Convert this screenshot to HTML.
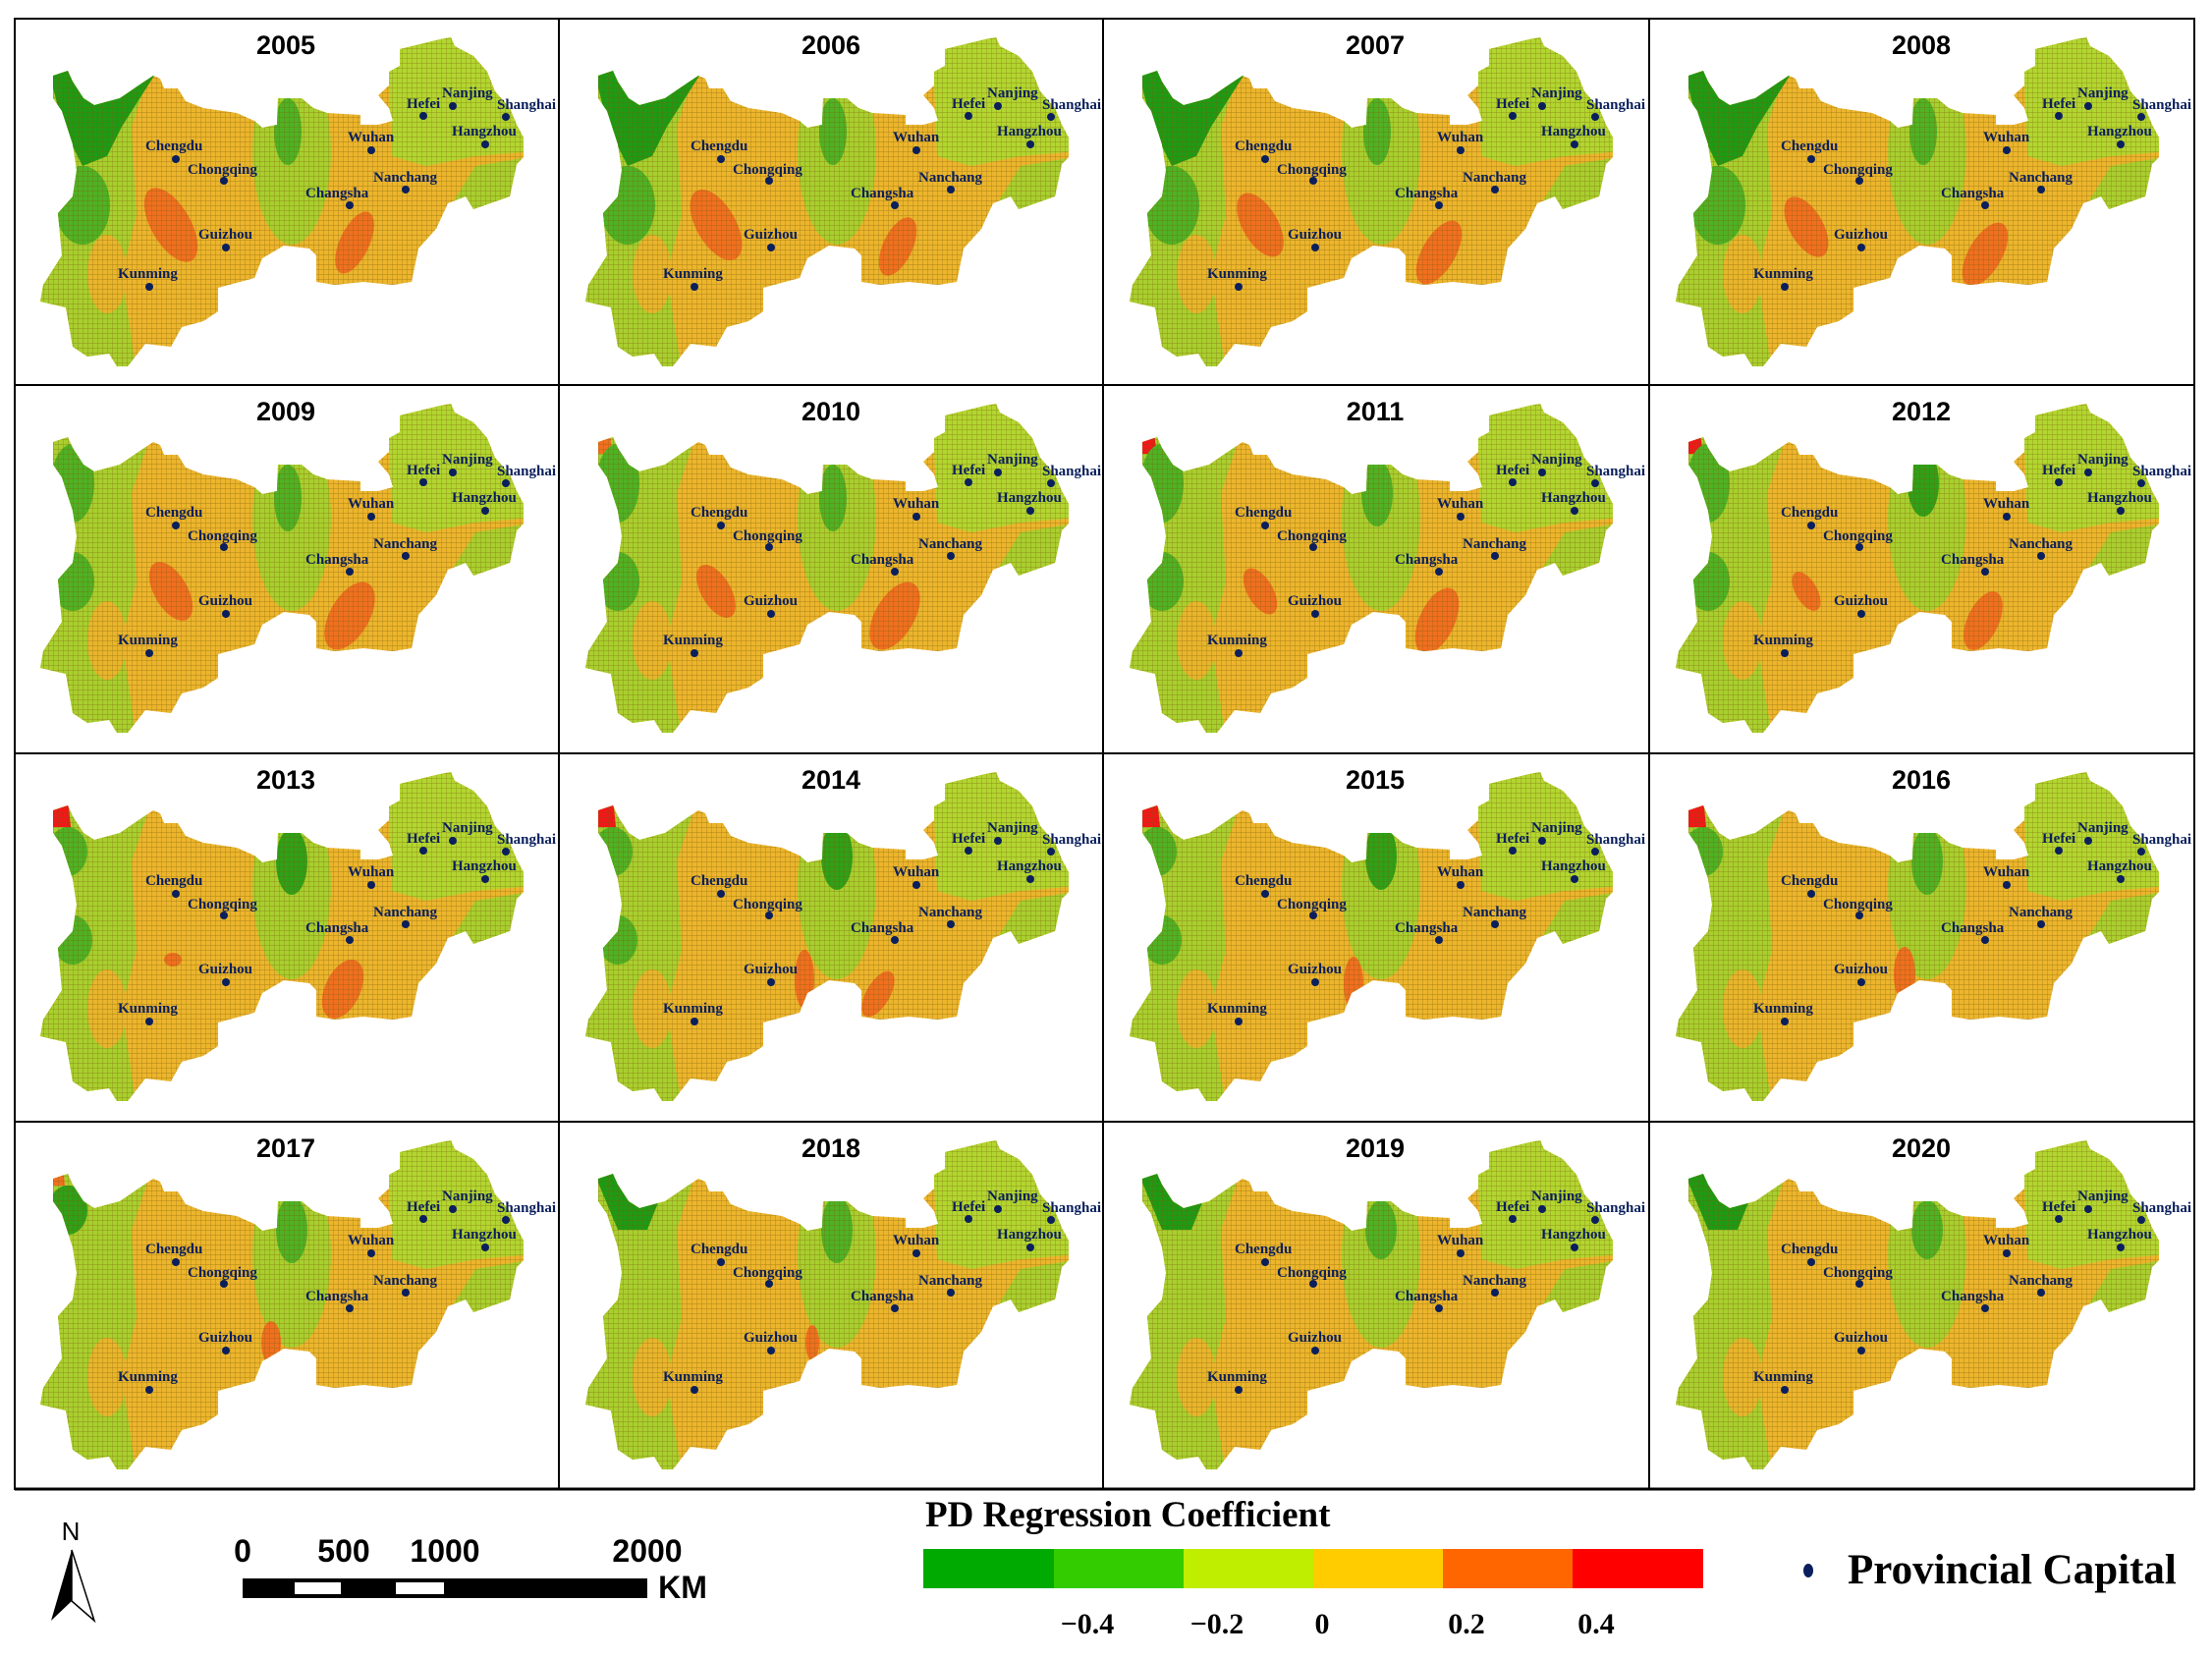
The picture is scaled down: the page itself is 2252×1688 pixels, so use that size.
<!DOCTYPE html>
<html><head><meta charset="utf-8"><style>
html,body{margin:0;padding:0;background:#fff}
svg{display:block}
.t{font:bold 27px "Liberation Sans",sans-serif;text-anchor:middle;fill:#000}
.c{font:bold 15px "Liberation Serif",serif;fill:#0a1f5c}
</style></head><body>
<svg width="2252" height="1688" viewBox="0 0 2252 1688" xmlns="http://www.w3.org/2000/svg">
<defs>
<clipPath id="cm"><polygon id="mp" points="40,58 55,53 60,64 71,81 82,88 108,81 127,68 142,58 149,61 153,71 167,71 175,84 193,91 227,96 245,104 253,111 268,108 269,81 293,81 305,91 319,96 353,98 353,108 371,108 386,104 382,91 371,78 382,68 382,54 393,48 393,31 434,21 445,19 449,28 468,38 482,54 490,74 505,91 512,108 519,121 519,141 512,148 505,181 468,194 460,181 442,188 430,214 412,234 405,268 386,271 356,268 327,271 308,268 308,241 301,234 275,231 253,244 245,264 208,274 208,298 193,308 171,314 160,334 134,331 116,354 105,354 97,341 75,344 60,334 53,294 27,288 30,271 49,241 45,198 60,181 64,154 60,128 49,94 40,81"/></clipPath>
<pattern id="hp" width="5" height="5" patternUnits="userSpaceOnUse"><path d="M0 0V5M0 0H5" stroke="#7a5a08" stroke-width="0.9" opacity="0.55"/></pattern>
<g id="base">
<rect x="0" y="0" width="555" height="374" fill="#ecb52c"/>
<path d="M30,50 L140,50 L120,110 L125,200 L110,260 L125,360 L40,360 L20,280 Z" fill="#a8cf2e"/>
<ellipse cx="283" cy="135" rx="40" ry="95" fill="#a8cf2e"/>
<path d="M380,10 L530,10 L530,135 L470,140 L420,150 L385,140 Z" fill="#b2d630"/>
<path d="M470,150 L530,140 L530,200 L440,260 L420,230 Z" fill="#a8cf2e"/>
<ellipse cx="95" cy="260" rx="20" ry="40" fill="#e8b52c"/>
</g>
</defs>

<g transform="translate(14,19)"><g clip-path="url(#cm)"><use href="#base"/><path d="M35,50 L145,55 L110,110 L95,140 L70,150 L50,110 Z" fill="#1f9a14"/><ellipse cx="70" cy="190" rx="28" ry="40" fill="#4fb224"/><ellipse cx="279" cy="115" rx="14" ry="34" fill="#4fb224"/><ellipse cx="160" cy="210" rx="20" ry="42" transform="rotate(-30 160 210)" fill="#f07020"/><ellipse cx="347" cy="228" rx="15" ry="34" transform="rotate(25 347 228)" fill="#f07020"/><rect width="555" height="374" fill="url(#hp)"/></g></g>
<g transform="translate(569,19)"><g clip-path="url(#cm)"><use href="#base"/><path d="M35,50 L145,55 L110,110 L95,140 L70,150 L50,110 Z" fill="#1f9a14"/><ellipse cx="70" cy="190" rx="28" ry="40" fill="#4fb224"/><ellipse cx="279" cy="115" rx="14" ry="34" fill="#4fb224"/><ellipse cx="160" cy="210" rx="20" ry="40" transform="rotate(-30 160 210)" fill="#f07020"/><ellipse cx="345" cy="232" rx="15" ry="32" transform="rotate(25 345 232)" fill="#f07020"/><rect width="555" height="374" fill="url(#hp)"/></g></g>
<g transform="translate(1123,19)"><g clip-path="url(#cm)"><use href="#base"/><path d="M35,50 L145,55 L110,110 L95,140 L70,150 L50,110 Z" fill="#1f9a14"/><ellipse cx="70" cy="190" rx="28" ry="40" fill="#4fb224"/><ellipse cx="279" cy="115" rx="14" ry="34" fill="#4fb224"/><ellipse cx="160" cy="210" rx="18" ry="36" transform="rotate(-30 160 210)" fill="#f07020"/><ellipse cx="342" cy="238" rx="17" ry="36" transform="rotate(30 342 238)" fill="#f07020"/><rect width="555" height="374" fill="url(#hp)"/></g></g>
<g transform="translate(1679,19)"><g clip-path="url(#cm)"><use href="#base"/><path d="M35,50 L145,55 L110,110 L95,140 L70,150 L50,110 Z" fill="#1f9a14"/><ellipse cx="70" cy="190" rx="28" ry="40" fill="#4fb224"/><ellipse cx="279" cy="115" rx="14" ry="34" fill="#4fb224"/><ellipse cx="160" cy="212" rx="17" ry="34" transform="rotate(-30 160 212)" fill="#f07020"/><ellipse cx="342" cy="240" rx="17" ry="36" transform="rotate(30 342 240)" fill="#f07020"/><rect width="555" height="374" fill="url(#hp)"/></g></g>

<g transform="translate(14,392)"><g clip-path="url(#cm)"><use href="#base"/><ellipse cx="60" cy="100" rx="22" ry="40" fill="#4fb224"/><ellipse cx="60" cy="200" rx="22" ry="30" fill="#4fb224"/><ellipse cx="279" cy="115" rx="14" ry="34" fill="#4fb224"/><ellipse cx="160" cy="210" rx="17" ry="33" transform="rotate(-30 160 210)" fill="#f07020"/><ellipse cx="342" cy="235" rx="20" ry="38" transform="rotate(30 342 235)" fill="#f07020"/><rect width="555" height="374" fill="url(#hp)"/></g></g>
<g transform="translate(569,392)"><g clip-path="url(#cm)"><use href="#base"/><path d="M35,50 L52,50 L55,70 L40,70 Z" fill="#f07020"/><ellipse cx="60" cy="100" rx="22" ry="40" fill="#4fb224"/><ellipse cx="60" cy="200" rx="22" ry="30" fill="#4fb224"/><ellipse cx="279" cy="115" rx="14" ry="34" fill="#4fb224"/><ellipse cx="160" cy="210" rx="15" ry="30" transform="rotate(-30 160 210)" fill="#f07020"/><ellipse cx="342" cy="235" rx="20" ry="38" transform="rotate(30 342 235)" fill="#f07020"/><rect width="555" height="374" fill="url(#hp)"/></g></g>
<g transform="translate(1123,392)"><g clip-path="url(#cm)"><use href="#base"/><path d="M35,50 L52,50 L55,70 L40,70 Z" fill="#f01818"/><ellipse cx="60" cy="100" rx="22" ry="40" fill="#4fb224"/><ellipse cx="60" cy="200" rx="22" ry="30" fill="#4fb224"/><ellipse cx="279" cy="110" rx="16" ry="34" fill="#4fb224"/><ellipse cx="160" cy="210" rx="13" ry="26" transform="rotate(-30 160 210)" fill="#f07020"/><ellipse cx="340" cy="240" rx="18" ry="36" transform="rotate(25 340 240)" fill="#f07020"/><rect width="555" height="374" fill="url(#hp)"/></g></g>
<g transform="translate(1679,392)"><g clip-path="url(#cm)"><use href="#base"/><path d="M35,50 L52,50 L55,70 L40,70 Z" fill="#f01818"/><ellipse cx="60" cy="100" rx="22" ry="40" fill="#4fb224"/><ellipse cx="60" cy="200" rx="22" ry="30" fill="#4fb224"/><ellipse cx="279" cy="100" rx="16" ry="34" fill="#2fa018"/><ellipse cx="160" cy="210" rx="11" ry="22" transform="rotate(-30 160 210)" fill="#f07020"/><ellipse cx="340" cy="240" rx="16" ry="32" transform="rotate(25 340 240)" fill="#f07020"/><rect width="555" height="374" fill="url(#hp)"/></g></g>

<g transform="translate(14,767)"><g clip-path="url(#cm)"><use href="#base"/><path d="M30,45 L55,45 L58,75 L35,75 Z" fill="#f01818"/><ellipse cx="55" cy="100" rx="20" ry="25" fill="#4fb224"/><ellipse cx="60" cy="190" rx="20" ry="25" fill="#4fb224"/><ellipse cx="283" cy="110" rx="16" ry="34" fill="#2fa018"/><ellipse cx="162" cy="210" rx="9" ry="7" fill="#f07020"/><ellipse cx="335" cy="240" rx="18" ry="32" transform="rotate(25 335 240)" fill="#f07020"/><rect width="555" height="374" fill="url(#hp)"/></g></g>
<g transform="translate(569,767)"><g clip-path="url(#cm)"><use href="#base"/><path d="M30,45 L55,45 L58,75 L35,75 Z" fill="#f01818"/><ellipse cx="55" cy="100" rx="20" ry="25" fill="#4fb224"/><ellipse cx="60" cy="190" rx="20" ry="25" fill="#4fb224"/><ellipse cx="283" cy="105" rx="16" ry="34" fill="#2fa018"/><ellipse cx="250" cy="230" rx="10" ry="30" fill="#f07020"/><ellipse cx="325" cy="245" rx="12" ry="26" transform="rotate(30 325 245)" fill="#f07020"/><rect width="555" height="374" fill="url(#hp)"/></g></g>
<g transform="translate(1123,767)"><g clip-path="url(#cm)"><use href="#base"/><path d="M30,45 L55,45 L58,75 L35,75 Z" fill="#f01818"/><ellipse cx="55" cy="100" rx="20" ry="25" fill="#4fb224"/><ellipse cx="60" cy="190" rx="20" ry="25" fill="#4fb224"/><ellipse cx="283" cy="105" rx="16" ry="34" fill="#2fa018"/><ellipse cx="255" cy="235" rx="10" ry="28" fill="#f07020"/><rect width="555" height="374" fill="url(#hp)"/></g></g>
<g transform="translate(1679,767)"><g clip-path="url(#cm)"><use href="#base"/><path d="M30,45 L55,45 L58,75 L35,75 Z" fill="#f01818"/><ellipse cx="55" cy="100" rx="20" ry="25" fill="#4fb224"/><ellipse cx="283" cy="110" rx="16" ry="34" fill="#4fb224"/><ellipse cx="260" cy="225" rx="11" ry="28" fill="#f07020"/><rect width="555" height="374" fill="url(#hp)"/></g></g>

<g transform="translate(14,1142)"><g clip-path="url(#cm)"><use href="#base"/><path d="M30,45 L50,45 L52,65 L35,65 Z" fill="#f07020"/><ellipse cx="55" cy="90" rx="20" ry="25" fill="#2fa018"/><ellipse cx="283" cy="110" rx="16" ry="34" fill="#4fb224"/><ellipse cx="262" cy="225" rx="10" ry="22" fill="#f07020"/><rect width="555" height="374" fill="url(#hp)"/></g></g>
<g transform="translate(569,1142)"><g clip-path="url(#cm)"><use href="#base"/><path d="M35,50 L110,60 L90,110 L60,110 Z" fill="#1f9a14"/><ellipse cx="283" cy="110" rx="16" ry="34" fill="#4fb224"/><ellipse cx="258" cy="225" rx="7" ry="18" fill="#f07020"/><rect width="555" height="374" fill="url(#hp)"/></g></g>
<g transform="translate(1123,1142)"><g clip-path="url(#cm)"><use href="#base"/><path d="M35,50 L110,60 L90,110 L60,110 Z" fill="#1f9a14"/><ellipse cx="283" cy="110" rx="16" ry="30" fill="#4fb224"/><rect width="555" height="374" fill="url(#hp)"/></g></g>
<g transform="translate(1679,1142)"><g clip-path="url(#cm)"><use href="#base"/><path d="M35,50 L110,60 L90,110 L60,110 Z" fill="#1f9a14"/><ellipse cx="283" cy="110" rx="16" ry="30" fill="#4fb224"/><rect width="555" height="374" fill="url(#hp)"/></g></g>

<g fill="#0a1f5c">
<g transform="translate(14,19)"><text class="t" x="277" y="36">2005</text><circle cx="165" cy="143" r="4"/><text class="c" x="134" y="134">Chengdu</text><circle cx="214" cy="165" r="4"/><text class="c" x="177" y="158">Chongqing</text><circle cx="216" cy="233" r="4"/><text class="c" x="188" y="224">Guizhou</text><circle cx="138" cy="273" r="4"/><text class="c" x="106" y="264">Kunming</text><circle cx="342" cy="190" r="4"/><text class="c" x="297" y="182">Changsha</text><circle cx="399" cy="174" r="4"/><text class="c" x="366" y="166">Nanchang</text><circle cx="364" cy="134" r="4"/><text class="c" x="340" y="125">Wuhan</text><circle cx="417" cy="99" r="4"/><text class="c" x="400" y="91">Hefei</text><circle cx="447" cy="89" r="4"/><text class="c" x="436" y="80">Nanjing</text><circle cx="501" cy="100" r="4"/><text class="c" x="492" y="92">Shanghai</text><circle cx="480" cy="128" r="4"/><text class="c" x="446" y="119">Hangzhou</text></g>
<g transform="translate(569,19)"><text class="t" x="277" y="36">2006</text><circle cx="165" cy="143" r="4"/><text class="c" x="134" y="134">Chengdu</text><circle cx="214" cy="165" r="4"/><text class="c" x="177" y="158">Chongqing</text><circle cx="216" cy="233" r="4"/><text class="c" x="188" y="224">Guizhou</text><circle cx="138" cy="273" r="4"/><text class="c" x="106" y="264">Kunming</text><circle cx="342" cy="190" r="4"/><text class="c" x="297" y="182">Changsha</text><circle cx="399" cy="174" r="4"/><text class="c" x="366" y="166">Nanchang</text><circle cx="364" cy="134" r="4"/><text class="c" x="340" y="125">Wuhan</text><circle cx="417" cy="99" r="4"/><text class="c" x="400" y="91">Hefei</text><circle cx="447" cy="89" r="4"/><text class="c" x="436" y="80">Nanjing</text><circle cx="501" cy="100" r="4"/><text class="c" x="492" y="92">Shanghai</text><circle cx="480" cy="128" r="4"/><text class="c" x="446" y="119">Hangzhou</text></g>
<g transform="translate(1123,19)"><text class="t" x="277" y="36">2007</text><circle cx="165" cy="143" r="4"/><text class="c" x="134" y="134">Chengdu</text><circle cx="214" cy="165" r="4"/><text class="c" x="177" y="158">Chongqing</text><circle cx="216" cy="233" r="4"/><text class="c" x="188" y="224">Guizhou</text><circle cx="138" cy="273" r="4"/><text class="c" x="106" y="264">Kunming</text><circle cx="342" cy="190" r="4"/><text class="c" x="297" y="182">Changsha</text><circle cx="399" cy="174" r="4"/><text class="c" x="366" y="166">Nanchang</text><circle cx="364" cy="134" r="4"/><text class="c" x="340" y="125">Wuhan</text><circle cx="417" cy="99" r="4"/><text class="c" x="400" y="91">Hefei</text><circle cx="447" cy="89" r="4"/><text class="c" x="436" y="80">Nanjing</text><circle cx="501" cy="100" r="4"/><text class="c" x="492" y="92">Shanghai</text><circle cx="480" cy="128" r="4"/><text class="c" x="446" y="119">Hangzhou</text></g>
<g transform="translate(1679,19)"><text class="t" x="277" y="36">2008</text><circle cx="165" cy="143" r="4"/><text class="c" x="134" y="134">Chengdu</text><circle cx="214" cy="165" r="4"/><text class="c" x="177" y="158">Chongqing</text><circle cx="216" cy="233" r="4"/><text class="c" x="188" y="224">Guizhou</text><circle cx="138" cy="273" r="4"/><text class="c" x="106" y="264">Kunming</text><circle cx="342" cy="190" r="4"/><text class="c" x="297" y="182">Changsha</text><circle cx="399" cy="174" r="4"/><text class="c" x="366" y="166">Nanchang</text><circle cx="364" cy="134" r="4"/><text class="c" x="340" y="125">Wuhan</text><circle cx="417" cy="99" r="4"/><text class="c" x="400" y="91">Hefei</text><circle cx="447" cy="89" r="4"/><text class="c" x="436" y="80">Nanjing</text><circle cx="501" cy="100" r="4"/><text class="c" x="492" y="92">Shanghai</text><circle cx="480" cy="128" r="4"/><text class="c" x="446" y="119">Hangzhou</text></g>
<g transform="translate(14,392)"><text class="t" x="277" y="36">2009</text><circle cx="165" cy="143" r="4"/><text class="c" x="134" y="134">Chengdu</text><circle cx="214" cy="165" r="4"/><text class="c" x="177" y="158">Chongqing</text><circle cx="216" cy="233" r="4"/><text class="c" x="188" y="224">Guizhou</text><circle cx="138" cy="273" r="4"/><text class="c" x="106" y="264">Kunming</text><circle cx="342" cy="190" r="4"/><text class="c" x="297" y="182">Changsha</text><circle cx="399" cy="174" r="4"/><text class="c" x="366" y="166">Nanchang</text><circle cx="364" cy="134" r="4"/><text class="c" x="340" y="125">Wuhan</text><circle cx="417" cy="99" r="4"/><text class="c" x="400" y="91">Hefei</text><circle cx="447" cy="89" r="4"/><text class="c" x="436" y="80">Nanjing</text><circle cx="501" cy="100" r="4"/><text class="c" x="492" y="92">Shanghai</text><circle cx="480" cy="128" r="4"/><text class="c" x="446" y="119">Hangzhou</text></g>
<g transform="translate(569,392)"><text class="t" x="277" y="36">2010</text><circle cx="165" cy="143" r="4"/><text class="c" x="134" y="134">Chengdu</text><circle cx="214" cy="165" r="4"/><text class="c" x="177" y="158">Chongqing</text><circle cx="216" cy="233" r="4"/><text class="c" x="188" y="224">Guizhou</text><circle cx="138" cy="273" r="4"/><text class="c" x="106" y="264">Kunming</text><circle cx="342" cy="190" r="4"/><text class="c" x="297" y="182">Changsha</text><circle cx="399" cy="174" r="4"/><text class="c" x="366" y="166">Nanchang</text><circle cx="364" cy="134" r="4"/><text class="c" x="340" y="125">Wuhan</text><circle cx="417" cy="99" r="4"/><text class="c" x="400" y="91">Hefei</text><circle cx="447" cy="89" r="4"/><text class="c" x="436" y="80">Nanjing</text><circle cx="501" cy="100" r="4"/><text class="c" x="492" y="92">Shanghai</text><circle cx="480" cy="128" r="4"/><text class="c" x="446" y="119">Hangzhou</text></g>
<g transform="translate(1123,392)"><text class="t" x="277" y="36">2011</text><circle cx="165" cy="143" r="4"/><text class="c" x="134" y="134">Chengdu</text><circle cx="214" cy="165" r="4"/><text class="c" x="177" y="158">Chongqing</text><circle cx="216" cy="233" r="4"/><text class="c" x="188" y="224">Guizhou</text><circle cx="138" cy="273" r="4"/><text class="c" x="106" y="264">Kunming</text><circle cx="342" cy="190" r="4"/><text class="c" x="297" y="182">Changsha</text><circle cx="399" cy="174" r="4"/><text class="c" x="366" y="166">Nanchang</text><circle cx="364" cy="134" r="4"/><text class="c" x="340" y="125">Wuhan</text><circle cx="417" cy="99" r="4"/><text class="c" x="400" y="91">Hefei</text><circle cx="447" cy="89" r="4"/><text class="c" x="436" y="80">Nanjing</text><circle cx="501" cy="100" r="4"/><text class="c" x="492" y="92">Shanghai</text><circle cx="480" cy="128" r="4"/><text class="c" x="446" y="119">Hangzhou</text></g>
<g transform="translate(1679,392)"><text class="t" x="277" y="36">2012</text><circle cx="165" cy="143" r="4"/><text class="c" x="134" y="134">Chengdu</text><circle cx="214" cy="165" r="4"/><text class="c" x="177" y="158">Chongqing</text><circle cx="216" cy="233" r="4"/><text class="c" x="188" y="224">Guizhou</text><circle cx="138" cy="273" r="4"/><text class="c" x="106" y="264">Kunming</text><circle cx="342" cy="190" r="4"/><text class="c" x="297" y="182">Changsha</text><circle cx="399" cy="174" r="4"/><text class="c" x="366" y="166">Nanchang</text><circle cx="364" cy="134" r="4"/><text class="c" x="340" y="125">Wuhan</text><circle cx="417" cy="99" r="4"/><text class="c" x="400" y="91">Hefei</text><circle cx="447" cy="89" r="4"/><text class="c" x="436" y="80">Nanjing</text><circle cx="501" cy="100" r="4"/><text class="c" x="492" y="92">Shanghai</text><circle cx="480" cy="128" r="4"/><text class="c" x="446" y="119">Hangzhou</text></g>
<g transform="translate(14,767)"><text class="t" x="277" y="36">2013</text><circle cx="165" cy="143" r="4"/><text class="c" x="134" y="134">Chengdu</text><circle cx="214" cy="165" r="4"/><text class="c" x="177" y="158">Chongqing</text><circle cx="216" cy="233" r="4"/><text class="c" x="188" y="224">Guizhou</text><circle cx="138" cy="273" r="4"/><text class="c" x="106" y="264">Kunming</text><circle cx="342" cy="190" r="4"/><text class="c" x="297" y="182">Changsha</text><circle cx="399" cy="174" r="4"/><text class="c" x="366" y="166">Nanchang</text><circle cx="364" cy="134" r="4"/><text class="c" x="340" y="125">Wuhan</text><circle cx="417" cy="99" r="4"/><text class="c" x="400" y="91">Hefei</text><circle cx="447" cy="89" r="4"/><text class="c" x="436" y="80">Nanjing</text><circle cx="501" cy="100" r="4"/><text class="c" x="492" y="92">Shanghai</text><circle cx="480" cy="128" r="4"/><text class="c" x="446" y="119">Hangzhou</text></g>
<g transform="translate(569,767)"><text class="t" x="277" y="36">2014</text><circle cx="165" cy="143" r="4"/><text class="c" x="134" y="134">Chengdu</text><circle cx="214" cy="165" r="4"/><text class="c" x="177" y="158">Chongqing</text><circle cx="216" cy="233" r="4"/><text class="c" x="188" y="224">Guizhou</text><circle cx="138" cy="273" r="4"/><text class="c" x="106" y="264">Kunming</text><circle cx="342" cy="190" r="4"/><text class="c" x="297" y="182">Changsha</text><circle cx="399" cy="174" r="4"/><text class="c" x="366" y="166">Nanchang</text><circle cx="364" cy="134" r="4"/><text class="c" x="340" y="125">Wuhan</text><circle cx="417" cy="99" r="4"/><text class="c" x="400" y="91">Hefei</text><circle cx="447" cy="89" r="4"/><text class="c" x="436" y="80">Nanjing</text><circle cx="501" cy="100" r="4"/><text class="c" x="492" y="92">Shanghai</text><circle cx="480" cy="128" r="4"/><text class="c" x="446" y="119">Hangzhou</text></g>
<g transform="translate(1123,767)"><text class="t" x="277" y="36">2015</text><circle cx="165" cy="143" r="4"/><text class="c" x="134" y="134">Chengdu</text><circle cx="214" cy="165" r="4"/><text class="c" x="177" y="158">Chongqing</text><circle cx="216" cy="233" r="4"/><text class="c" x="188" y="224">Guizhou</text><circle cx="138" cy="273" r="4"/><text class="c" x="106" y="264">Kunming</text><circle cx="342" cy="190" r="4"/><text class="c" x="297" y="182">Changsha</text><circle cx="399" cy="174" r="4"/><text class="c" x="366" y="166">Nanchang</text><circle cx="364" cy="134" r="4"/><text class="c" x="340" y="125">Wuhan</text><circle cx="417" cy="99" r="4"/><text class="c" x="400" y="91">Hefei</text><circle cx="447" cy="89" r="4"/><text class="c" x="436" y="80">Nanjing</text><circle cx="501" cy="100" r="4"/><text class="c" x="492" y="92">Shanghai</text><circle cx="480" cy="128" r="4"/><text class="c" x="446" y="119">Hangzhou</text></g>
<g transform="translate(1679,767)"><text class="t" x="277" y="36">2016</text><circle cx="165" cy="143" r="4"/><text class="c" x="134" y="134">Chengdu</text><circle cx="214" cy="165" r="4"/><text class="c" x="177" y="158">Chongqing</text><circle cx="216" cy="233" r="4"/><text class="c" x="188" y="224">Guizhou</text><circle cx="138" cy="273" r="4"/><text class="c" x="106" y="264">Kunming</text><circle cx="342" cy="190" r="4"/><text class="c" x="297" y="182">Changsha</text><circle cx="399" cy="174" r="4"/><text class="c" x="366" y="166">Nanchang</text><circle cx="364" cy="134" r="4"/><text class="c" x="340" y="125">Wuhan</text><circle cx="417" cy="99" r="4"/><text class="c" x="400" y="91">Hefei</text><circle cx="447" cy="89" r="4"/><text class="c" x="436" y="80">Nanjing</text><circle cx="501" cy="100" r="4"/><text class="c" x="492" y="92">Shanghai</text><circle cx="480" cy="128" r="4"/><text class="c" x="446" y="119">Hangzhou</text></g>
<g transform="translate(14,1142)"><text class="t" x="277" y="36">2017</text><circle cx="165" cy="143" r="4"/><text class="c" x="134" y="134">Chengdu</text><circle cx="214" cy="165" r="4"/><text class="c" x="177" y="158">Chongqing</text><circle cx="216" cy="233" r="4"/><text class="c" x="188" y="224">Guizhou</text><circle cx="138" cy="273" r="4"/><text class="c" x="106" y="264">Kunming</text><circle cx="342" cy="190" r="4"/><text class="c" x="297" y="182">Changsha</text><circle cx="399" cy="174" r="4"/><text class="c" x="366" y="166">Nanchang</text><circle cx="364" cy="134" r="4"/><text class="c" x="340" y="125">Wuhan</text><circle cx="417" cy="99" r="4"/><text class="c" x="400" y="91">Hefei</text><circle cx="447" cy="89" r="4"/><text class="c" x="436" y="80">Nanjing</text><circle cx="501" cy="100" r="4"/><text class="c" x="492" y="92">Shanghai</text><circle cx="480" cy="128" r="4"/><text class="c" x="446" y="119">Hangzhou</text></g>
<g transform="translate(569,1142)"><text class="t" x="277" y="36">2018</text><circle cx="165" cy="143" r="4"/><text class="c" x="134" y="134">Chengdu</text><circle cx="214" cy="165" r="4"/><text class="c" x="177" y="158">Chongqing</text><circle cx="216" cy="233" r="4"/><text class="c" x="188" y="224">Guizhou</text><circle cx="138" cy="273" r="4"/><text class="c" x="106" y="264">Kunming</text><circle cx="342" cy="190" r="4"/><text class="c" x="297" y="182">Changsha</text><circle cx="399" cy="174" r="4"/><text class="c" x="366" y="166">Nanchang</text><circle cx="364" cy="134" r="4"/><text class="c" x="340" y="125">Wuhan</text><circle cx="417" cy="99" r="4"/><text class="c" x="400" y="91">Hefei</text><circle cx="447" cy="89" r="4"/><text class="c" x="436" y="80">Nanjing</text><circle cx="501" cy="100" r="4"/><text class="c" x="492" y="92">Shanghai</text><circle cx="480" cy="128" r="4"/><text class="c" x="446" y="119">Hangzhou</text></g>
<g transform="translate(1123,1142)"><text class="t" x="277" y="36">2019</text><circle cx="165" cy="143" r="4"/><text class="c" x="134" y="134">Chengdu</text><circle cx="214" cy="165" r="4"/><text class="c" x="177" y="158">Chongqing</text><circle cx="216" cy="233" r="4"/><text class="c" x="188" y="224">Guizhou</text><circle cx="138" cy="273" r="4"/><text class="c" x="106" y="264">Kunming</text><circle cx="342" cy="190" r="4"/><text class="c" x="297" y="182">Changsha</text><circle cx="399" cy="174" r="4"/><text class="c" x="366" y="166">Nanchang</text><circle cx="364" cy="134" r="4"/><text class="c" x="340" y="125">Wuhan</text><circle cx="417" cy="99" r="4"/><text class="c" x="400" y="91">Hefei</text><circle cx="447" cy="89" r="4"/><text class="c" x="436" y="80">Nanjing</text><circle cx="501" cy="100" r="4"/><text class="c" x="492" y="92">Shanghai</text><circle cx="480" cy="128" r="4"/><text class="c" x="446" y="119">Hangzhou</text></g>
<g transform="translate(1679,1142)"><text class="t" x="277" y="36">2020</text><circle cx="165" cy="143" r="4"/><text class="c" x="134" y="134">Chengdu</text><circle cx="214" cy="165" r="4"/><text class="c" x="177" y="158">Chongqing</text><circle cx="216" cy="233" r="4"/><text class="c" x="188" y="224">Guizhou</text><circle cx="138" cy="273" r="4"/><text class="c" x="106" y="264">Kunming</text><circle cx="342" cy="190" r="4"/><text class="c" x="297" y="182">Changsha</text><circle cx="399" cy="174" r="4"/><text class="c" x="366" y="166">Nanchang</text><circle cx="364" cy="134" r="4"/><text class="c" x="340" y="125">Wuhan</text><circle cx="417" cy="99" r="4"/><text class="c" x="400" y="91">Hefei</text><circle cx="447" cy="89" r="4"/><text class="c" x="436" y="80">Nanjing</text><circle cx="501" cy="100" r="4"/><text class="c" x="492" y="92">Shanghai</text><circle cx="480" cy="128" r="4"/><text class="c" x="446" y="119">Hangzhou</text></g>
</g>

<g stroke="#000" fill="none">
<rect x="15" y="19" width="2219" height="1497" stroke-width="2"/>
<line x1="569" y1="19" x2="569" y2="1516" stroke-width="2"/>
<line x1="1123" y1="19" x2="1123" y2="1516" stroke-width="2"/>
<line x1="1679" y1="19" x2="1679" y2="1516" stroke-width="2"/>
<line x1="15" y1="392" x2="2234" y2="392" stroke-width="2"/>
<line x1="15" y1="767" x2="2234" y2="767" stroke-width="2"/>
<line x1="15" y1="1142" x2="2234" y2="1142" stroke-width="2"/>
<line x1="15" y1="1516" x2="2234" y2="1516" stroke-width="3"/>
</g>

<text x="72" y="1568" font-family="Liberation Sans,sans-serif" font-size="26" text-anchor="middle">N</text>
<polygon points="73,1578 52,1650 73,1630" fill="#000"/>
<polygon points="73,1578 96,1650 73,1630" fill="#fff" stroke="#000" stroke-width="1.5"/>

<g font-family="Liberation Sans,sans-serif" font-weight="bold" font-size="32" text-anchor="middle">
<text x="247" y="1590">0</text><text x="350" y="1590">500</text><text x="453" y="1590">1000</text><text x="659" y="1590">2000</text>
<text x="695" y="1627">KM</text>
</g>
<rect x="247" y="1607" width="412" height="20" fill="#000"/>
<rect x="300" y="1611" width="47" height="12" fill="#fff"/>
<rect x="403" y="1611" width="49" height="12" fill="#fff"/>

<text x="942" y="1554" font-family="Liberation Serif,serif" font-weight="bold" font-size="37">PD Regression Coefficient</text>
<rect x="940" y="1577" width="133" height="40" fill="#00aa00"/>
<rect x="1073" y="1577" width="132" height="40" fill="#33cc00"/>
<rect x="1205" y="1577" width="132" height="40" fill="#bfee00"/>
<rect x="1337" y="1577" width="132" height="40" fill="#ffcc00"/>
<rect x="1469" y="1577" width="132" height="40" fill="#ff6600"/>
<rect x="1601" y="1577" width="133" height="40" fill="#ff0000"/>
<g font-family="Liberation Serif,serif" font-weight="bold" font-size="30" text-anchor="middle">
<text x="1107" y="1663">−0.4</text><text x="1239" y="1663">−0.2</text><text x="1346" y="1663">0</text><text x="1493" y="1663">0.2</text><text x="1625" y="1663">0.4</text>
</g>
<ellipse cx="1841" cy="1599" rx="5" ry="7" fill="#0a1f5c"/>
<text x="1881" y="1612" font-family="Liberation Serif,serif" font-weight="bold" font-size="43">Provincial Capital</text>
</svg>
</body></html>
